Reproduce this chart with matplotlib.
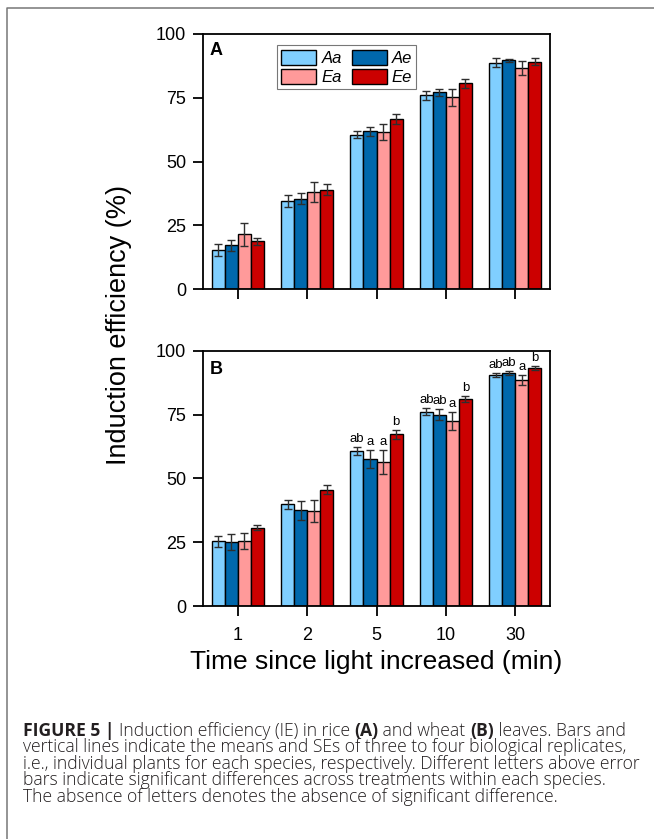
import numpy as np
import matplotlib
matplotlib.use("Agg")
import matplotlib.pyplot as plt
from matplotlib.lines import Line2D

plt.rcParams['font.family'] = ['Liberation Sans', 'DejaVu Sans']

# data
times = ['1', '2', '5', '10', '30']
treatments = ['Aa', 'Ae', 'Ea', 'Ee']
colors = ['#80cfff', '#0068ac', '#ff9a9a', '#cc0000']

# rice (A): rows = Aa, Ae, Ea, Ee
rice_mean = [[15.2, 34.4, 60.5, 75.9, 88.7],
             [17.1, 35.4, 61.8, 77.2, 89.7],
             [21.4, 38.0, 61.6, 75.1, 86.6],
             [18.7, 38.9, 66.7, 80.6, 89.2]]
rice_se = [[2.4, 2.4, 1.4, 1.8, 1.8],
           [2.2, 2.2, 1.8, 1.4, 0.5],
           [4.4, 3.8, 3.1, 3.4, 2.8],
           [1.4, 2.2, 1.8, 1.6, 1.3]]

# wheat (B)
wheat_mean = [[25.4, 39.8, 60.7, 76.2, 90.5],
              [25.1, 37.5, 57.7, 74.9, 91.3],
              [25.5, 37.2, 56.4, 72.4, 88.6],
              [30.7, 45.6, 67.2, 81.1, 93.4]]
wheat_se = [[2.1, 1.7, 1.7, 1.3, 0.9],
            [3.3, 3.8, 3.5, 2.2, 0.8],
            [3.1, 4.3, 4.8, 3.6, 1.9],
            [1.1, 1.8, 1.6, 1.2, 0.8]]
wheat_letters = [['', '', 'ab', 'ab', 'ab'],
                 ['', '', 'a', 'ab', 'ab'],
                 ['', '', 'a', 'a', 'a'],
                 ['', '', 'b', 'b', 'b']]

# caption: first line has bold pieces
caption_first = [("FIGURE 5 | ", 'bold'),
                 ("Induction efficiency (IE) in rice ", 'light'),
                 ("(A)", 'bold'),
                 (" and wheat ", 'light'),
                 ("(B)", 'bold'),
                 (" leaves. Bars and", 'light')]
caption_rest = [
    "vertical lines indicate the means and SEs of three to four biological replicates,",
    "i.e., individual plants for each species, respectively. Different letters above error",
    "bars indicate significant differences across treatments within each species.",
    "The absence of letters denotes the absence of significant difference.",
]
# right end (px) of each caption line in the reference
caption_ends = [642, 629, 646, 615, 563]

bar_w = 0.1875


def draw_panel(ax, means, ses, letters=None):
    x = np.arange(len(times))
    handles = []
    for i, name in enumerate(treatments):
        pos = x + (i - 1.5) * bar_w
        b = ax.bar(pos, means[i], width=bar_w, color=colors[i],
                   edgecolor='black', linewidth=1.0, label=name, zorder=2)
        ax.errorbar(pos, means[i], yerr=ses[i], fmt='none', ecolor='#2e2e2e',
                    elinewidth=1.0, capsize=3, capthick=1.0, zorder=3)
        handles.append(b)
        if letters is not None:
            for j in range(len(times)):
                if letters[i][j]:
                    ax.text(pos[j], means[i][j] + ses[i][j] + 0.8, letters[i][j],
                            ha='center', va='bottom', fontsize=9.5, zorder=4)
    ax.set_xlim(-0.5, len(times) - 0.5)
    ax.set_ylim(0, 100)
    ax.set_yticks([0, 25, 50, 75, 100])
    ax.set_xticks(x)
    for s in ax.spines.values():
        s.set_linewidth(1.3)
    ax.tick_params(direction='out', length=7, width=1.3, labelsize=13, pad=5)
    ax.tick_params(axis='x', pad=8)
    return handles


fig = plt.figure(figsize=(6.54, 8.39), dpi=100)
axA = fig.add_axes([0.3104, 0.6555, 0.5306, 0.3040])
axB = fig.add_axes([0.3104, 0.2777, 0.5306, 0.3042])

hA = draw_panel(axA, rice_mean, rice_se)
draw_panel(axB, wheat_mean, wheat_se, wheat_letters)

axA.set_xticklabels([])
axB.set_xticklabels(times)

axA.text(0.02, 0.934, 'A', transform=axA.transAxes, fontsize=13,
         fontweight='bold', ha='left', va='center')
axB.text(0.02, 0.928, 'B', transform=axB.transAxes, fontsize=13,
         fontweight='bold', ha='left', va='center')

leg = axA.legend([hA[0], hA[2], hA[1], hA[3]], ['Aa', 'Ea', 'Ae', 'Ee'],
                 ncol=2, loc='upper left', bbox_to_anchor=(0.214, 0.955),
                 borderaxespad=0, prop={'style': 'italic', 'size': 12},
                 handlelength=2.1, handleheight=1.0, handletextpad=0.3,
                 columnspacing=0.6, labelspacing=0.2, borderpad=0.25,
                 fancybox=False, framealpha=1)
leg.get_frame().set_edgecolor('#777777')
leg.get_frame().set_linewidth(0.8)

fig.text(0.182, 0.613, 'Induction efficiency (%)', rotation=90,
         ha='center', va='center', fontsize=19.5)
fig.text(0.5757, 0.2113, 'Time since light increased (min)',
         ha='center', va='center', fontsize=19)

# caption
renderer = fig.canvas.get_renderer()
cap_font = dict(family='Open Sans', color='#231f20')


def text_width(s, size, weight):
    t = fig.text(0, 0, s, fontsize=size, fontweight=weight, **cap_font)
    w = t.get_window_extent(renderer).width
    t.remove()
    return w


def advance(s, size, weight):
    # pad with bars so that leading/trailing spaces are counted
    return text_width('|' + s + '|', size, weight) - text_width('||', size, weight)


x0 = 22.7
base = 11.0
first_w = sum(advance(s, base, wt) for s, wt in caption_first)
widths = [first_w] + [text_width(s, base, 'light') for s in caption_rest]
size = base * min((end - x0) / w for w, end in zip(widths, caption_ends))


def baseline(k):
    return 1 - (735.7 + 16.5 * k) / 839


x = x0
for s, wt in caption_first:
    fig.text(x / 654, baseline(0), s, ha='left', va='baseline', fontsize=size,
             fontweight=wt, **cap_font)
    x += advance(s, size, wt)
for k, line in enumerate(caption_rest, start=1):
    fig.text(x0 / 654, baseline(k), line, ha='left', va='baseline',
             fontsize=size, fontweight='light', **cap_font)

# frame lines at left and top
fig.add_artist(Line2D([7 / 654, 7 / 654, 1.0], [0.0, 1 - 8 / 839, 1 - 8 / 839],
                      transform=fig.transFigure, color='#777777', linewidth=1.1))

fig.savefig('out.png', dpi=100)
